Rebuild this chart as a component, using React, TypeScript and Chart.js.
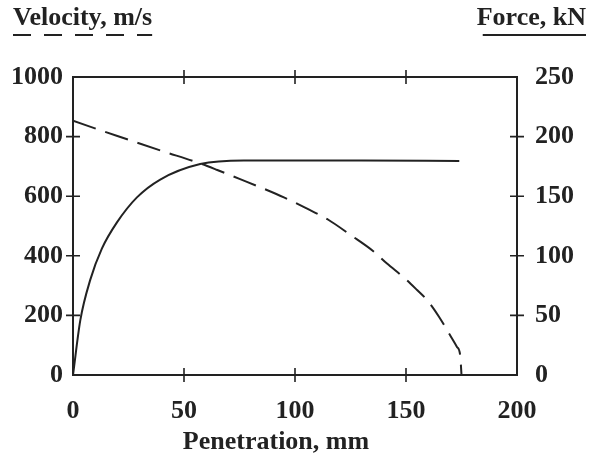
import React, { useEffect, useRef } from "react";
import { Chart, registerables } from "chart.js";

Chart.register(...registerables);

// Penetration (mm) vs. projectile velocity (m/s)
const velocityX = [0, 20, 40, 57.3, 65, 75, 85, 95, 105, 115, 125, 135, 141.3, 150, 155, 160, 165, 169.8, 172.9, 174.4, 175];
const velocityY = [853, 802, 752, 710, 688, 658, 628, 596, 560, 521, 470, 417, 375, 321, 285, 247, 194, 134, 95, 67, 0];

// Penetration (mm) vs. resisting force (kN)
const forceX = [0, 3.3, 7.8, 13, 19.8, 28.8, 39.3, 57.3, 77, 100, 130, 174];
const forceY = [0, 46, 80, 106, 128, 149, 164, 177, 180, 180, 180, 179.5];

const penetrationTicks = [0, 50, 100, 150, 200];
const velocityTicks = [0, 200, 400, 600, 800, 1000];
const forceTicks = [0, 50, 100, 150, 200, 250];

const INK = "#222";
const FONT_FAMILY = "'Liberation Serif', 'Times New Roman', serif";
const tickFont = { family: FONT_FAMILY, size: 26, weight: "bold" as const };
const plainLabel = (v: any) => String(v);

const framePlugin = {
  id: "frameAndTitles",
  afterDatasetsDraw(chart: any) {
    const { ctx, chartArea } = chart;
    const { left, right, top, bottom } = chartArea;
    const xs = chart.scales.x;
    const ys = chart.scales.y;
    const ys1 = chart.scales.y1;
    ctx.save();
    ctx.strokeStyle = INK;
    ctx.lineWidth = 2;
    ctx.setLineDash([]);
    ctx.strokeRect(left, top, right - left, bottom - top);

    const half = 7;
    ctx.lineWidth = 1.6;
    ctx.beginPath();
    penetrationTicks.slice(1, -1).forEach((v) => {
      const px = xs.getPixelForValue(v);
      ctx.moveTo(px, bottom - half);
      ctx.lineTo(px, bottom + half);
      ctx.moveTo(px, top - half);
      ctx.lineTo(px, top + half);
    });
    velocityTicks.slice(1, -1).forEach((v) => {
      const py = ys.getPixelForValue(v);
      ctx.moveTo(left - half, py);
      ctx.lineTo(left + half, py);
    });
    forceTicks.slice(1, -1).forEach((v) => {
      const py = ys1.getPixelForValue(v);
      ctx.moveTo(right - half, py);
      ctx.lineTo(right + half, py);
    });
    ctx.stroke();

    // axis captions
    ctx.fillStyle = INK;
    ctx.font = `bold 26px ${FONT_FAMILY}`;
    ctx.textBaseline = "alphabetic";

    const velText = "Velocity, m/s";
    ctx.textAlign = "left";
    ctx.fillText(velText, 13, 25);
    const velW = ctx.measureText(velText).width;
    ctx.lineWidth = 2;
    ctx.setLineDash([18, 13]);
    ctx.beginPath();
    ctx.moveTo(13, 35);
    ctx.lineTo(13 + velW, 35);
    ctx.stroke();

    const forceText = "Force, kN";
    ctx.textAlign = "right";
    ctx.fillText(forceText, 586, 25);
    const forceW = ctx.measureText(forceText).width;
    ctx.setLineDash([]);
    ctx.beginPath();
    ctx.moveTo(586 - forceW + 6, 35);
    ctx.lineTo(586, 35);
    ctx.stroke();

    ctx.textAlign = "center";
    ctx.fillText("Penetration, mm", 276, 449);
    ctx.restore();
  },
};

export default function App() {
  const canvasRef = useRef<HTMLCanvasElement | null>(null);

  useEffect(() => {
    const canvas = canvasRef.current;
    if (!canvas) return;
    const chart = new Chart(canvas, {
      type: "line",
      data: {
        datasets: [
          {
            label: "Velocity, m/s",
            data: velocityX.map((x, i) => ({ x, y: velocityY[i] })),
            yAxisID: "y",
            borderColor: INK,
            borderWidth: 2,
            borderDash: [24, 10],
            pointRadius: 0,
            fill: false,
            cubicInterpolationMode: "monotone",
          },
          {
            label: "Force, kN",
            data: forceX.map((x, i) => ({ x, y: forceY[i] })),
            yAxisID: "y1",
            borderColor: INK,
            borderWidth: 2,
            pointRadius: 0,
            fill: false,
            cubicInterpolationMode: "monotone",
          },
        ],
      },
      options: {
        responsive: false,
        animation: false,
        layout: { padding: { top: 77, left: 0, right: 0, bottom: 0 } },
        plugins: {
          legend: { display: false },
          tooltip: { enabled: false },
          title: { display: false },
        },
        scales: {
          x: {
            type: "linear",
            position: "bottom",
            min: 0,
            max: 200,
            afterBuildTicks: (s: any) => {
              s.ticks = penetrationTicks.map((v) => ({ value: v }));
            },
            afterFit: (s: any) => {
              s.height = 81;
            },
            grid: { display: false, drawTicks: false },
            border: { display: false },
            ticks: { color: INK, font: tickFont, padding: 21, maxRotation: 0, callback: plainLabel },
          },
          y: {
            type: "linear",
            position: "left",
            min: 0,
            max: 1000,
            afterBuildTicks: (s: any) => {
              s.ticks = velocityTicks.map((v) => ({ value: v }));
            },
            afterFit: (s: any) => {
              s.width = 73;
            },
            grid: { display: false, drawTicks: false },
            border: { display: false },
            ticks: { color: INK, font: tickFont, padding: 10, callback: plainLabel },
          },
          y1: {
            type: "linear",
            position: "right",
            min: 0,
            max: 250,
            afterBuildTicks: (s: any) => {
              s.ticks = forceTicks.map((v) => ({ value: v }));
            },
            afterFit: (s: any) => {
              s.width = 77;
            },
            grid: { display: false, drawTicks: false },
            border: { display: false },
            ticks: { color: INK, font: tickFont, padding: 18, callback: plainLabel },
          },
        },
      },
      plugins: [framePlugin],
    });
    return () => chart.destroy();
  }, []);

  return (
    <div style={{ position: "absolute", left: 0, top: 0, width: 594, height: 456, background: "#fff" }}>
      <canvas ref={canvasRef} width={594} height={456} />
    </div>
  );
}
